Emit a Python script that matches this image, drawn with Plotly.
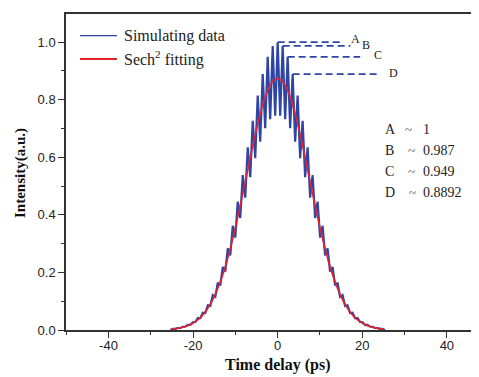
import plotly.graph_objects as go

# ---- data ----
# fringe peak positions (ps) and heights of the simulated data (right half, mirrored)
peak_time = [0.0, 1.18, 2.36, 3.54, 4.72, 5.90, 7.08, 8.26, 9.44, 10.62, 11.80,
             12.98, 14.16, 15.34, 16.52, 17.70, 18.88, 20.06, 21.24, 22.42, 23.60, 24.78]
peak_val = [1.000, 0.987, 0.949, 0.889, 0.815, 0.727, 0.635, 0.538, 0.446, 0.362, 0.284,
            0.219, 0.164, 0.121, 0.086, 0.060, 0.041, 0.027, 0.018, 0.011, 0.007, 0.004]
# fringe trough positions (ps) and values
trough_time = [0.59, 1.77, 2.95, 4.13, 5.31, 6.49, 7.67, 8.85, 10.03, 11.21, 12.39,
               13.57, 14.75, 15.93, 17.11, 18.29, 19.47, 20.65, 21.83, 23.01, 24.19, 25.37]
trough_val = [0.745, 0.732, 0.701, 0.654, 0.597, 0.531, 0.460, 0.389, 0.321, 0.259, 0.203,
              0.155, 0.115, 0.084, 0.059, 0.041, 0.028, 0.018, 0.012, 0.007, 0.004, 0.0]

# sech^2 fitting curve (right half, mirrored)
fit_time = list(range(0, 26))
fit_val = [0.875, 0.867, 0.844, 0.807, 0.758, 0.699, 0.633, 0.563, 0.492, 0.422, 0.356,
           0.295, 0.239, 0.191, 0.150, 0.116, 0.087, 0.065, 0.047, 0.034, 0.024, 0.0165,
           0.011, 0.0075, 0.0049, 0.0032]

# marked peaks
mark_labels = ["A", "B", "C", "D"]
mark_values = ["1", "0.987", "0.949", "0.8892"]
mark_line_end = [15.6, 17.2, 19.5, 23.4]
mark_label_pos = [(16.8, 1.012), (19.5, 0.990), (22.4, 0.956), (25.9, 0.893)]

x_ticks = [-40, -20, 0, 20, 40]
y_ticks = [0.0, 0.2, 0.4, 0.6, 0.8, 1.0]

BLUE = "#2f45a6"
RED = "#e5222a"

# ---- build full (mirrored) series ----
pts = []
for t, v in zip(peak_time, peak_val):
    pts.append((t, v))
    if t != 0:
        pts.append((-t, v))
for t, v in zip(trough_time, trough_val):
    pts.append((t, v))
    pts.append((-t, v))
pts.sort()
sim_x = [p[0] for p in pts]
sim_y = [p[1] for p in pts]

fx = [-t for t in fit_time[:0:-1]] + fit_time
fy = fit_val[:0:-1] + fit_val

fig = go.Figure()
fig.add_trace(go.Scatter(x=sim_x, y=sim_y, mode="lines",
                         line=dict(color=BLUE, width=2.2), showlegend=False))
fig.add_trace(go.Scatter(x=fx, y=fy, mode="lines", line_shape="spline",
                         line=dict(color=RED, width=1.6), showlegend=False))

# dashed marker lines
for i in range(4):
    fig.add_shape(type="line", xref="x", yref="y",
                  x0=peak_time[i], x1=mark_line_end[i], y0=peak_val[i], y1=peak_val[i],
                  line=dict(color=BLUE, width=1.8, dash="7px,4px"))
    fig.add_annotation(x=mark_label_pos[i][0], y=mark_label_pos[i][1], text=mark_labels[i],
                       showarrow=False, xanchor="left", yanchor="middle",
                       font=dict(family="Liberation Serif", size=12, color="#222"))

# value list on the right
ys_txt = [0.695, 0.622, 0.550, 0.477]
tilde_x = [29.6, 30.4, 30.4, 30.6]
for i in range(4):
    fig.add_annotation(x=24.9, y=ys_txt[i], text=mark_labels[i], showarrow=False,
                       xanchor="left", yanchor="middle",
                       font=dict(family="Liberation Serif", size=14, color="#222"))
    fig.add_annotation(x=tilde_x[i], y=ys_txt[i], text="~", showarrow=False,
                       xanchor="left", yanchor="middle",
                       font=dict(family="Liberation Serif", size=13, color="#444"))
    fig.add_annotation(x=33.8, y=ys_txt[i], text=mark_values[i], showarrow=False,
                       xanchor="left", yanchor="middle",
                       font=dict(family="Liberation Serif", size=14, color="#222"))

# manual legend (page pixel -> paper conversion: plot left 66, width 413, bottom 330, height 316)
def px(xp):
    return (xp - 66) / 413.0

def py(yp):
    return (330 - yp) / 316.0

fig.add_shape(type="line", xref="paper", yref="paper", x0=px(80), x1=px(117),
              y0=py(35.7), y1=py(35.7), line=dict(color=BLUE, width=1.2))
fig.add_shape(type="line", xref="paper", yref="paper", x0=px(80), x1=px(117),
              y0=py(59), y1=py(59), line=dict(color=RED, width=2))
fig.add_annotation(xref="paper", yref="paper", x=px(122), y=py(35.5), text="Simulating data",
                   showarrow=False, xanchor="left", yanchor="middle",
                   font=dict(family="Liberation Serif", size=16, color="#222"))
fig.add_annotation(xref="paper", yref="paper", x=px(122), y=py(58.5), text="Sech<sup>2</sup> fitting",
                   showarrow=False, xanchor="left", yanchor="middle",
                   font=dict(family="Liberation Serif", size=16, color="#222"))

# axis titles
fig.add_annotation(xref="x", yref="paper", x=0, y=0, yshift=-35, text="<b>Time delay (ps)</b>",
                   showarrow=False, xanchor="center", yanchor="middle",
                   font=dict(family="Liberation Serif", size=16, color="#111"))
fig.add_annotation(xref="paper", yref="paper", x=px(20), y=py(173), text="<b>Intensity(a.u.)</b>",
                   showarrow=False, textangle=-90, xanchor="center", yanchor="middle",
                   font=dict(family="Liberation Serif", size=15, color="#111"))

axis_common = dict(showgrid=False, zeroline=False, showline=True, linecolor="#333",
                   linewidth=1.5, ticks="outside", ticklen=6, tickwidth=1.2, tickcolor="#333",
                   tickfont=dict(family="Liberation Sans", size=13, color="#222"))

fig.update_xaxes(range=[-50.05, 47.6], tickvals=x_ticks, ticktext=[str(v) for v in x_ticks],
                 mirror=True, ticklabelstandoff=-3,
                 minor=dict(dtick=10, tick0=0, ticklen=3, ticks="outside", tickcolor="#333"),
                 **axis_common)
fig.update_yaxes(range=[0, 1.098], tickvals=y_ticks, ticktext=[f"{v:.1f}" for v in y_ticks],
                 mirror=False,
                 minor=dict(dtick=0.1, tick0=0, ticklen=3, ticks="outside", tickcolor="#333"),
                 **axis_common)

# the page body adds an 8px offset, so the figure is 8px smaller and margins compensate
fig.update_layout(width=471, height=369, margin=dict(l=58, r=0, t=6, b=47),
                  paper_bgcolor="white", plot_bgcolor="white", showlegend=False)

fig.write_html("out.html")
